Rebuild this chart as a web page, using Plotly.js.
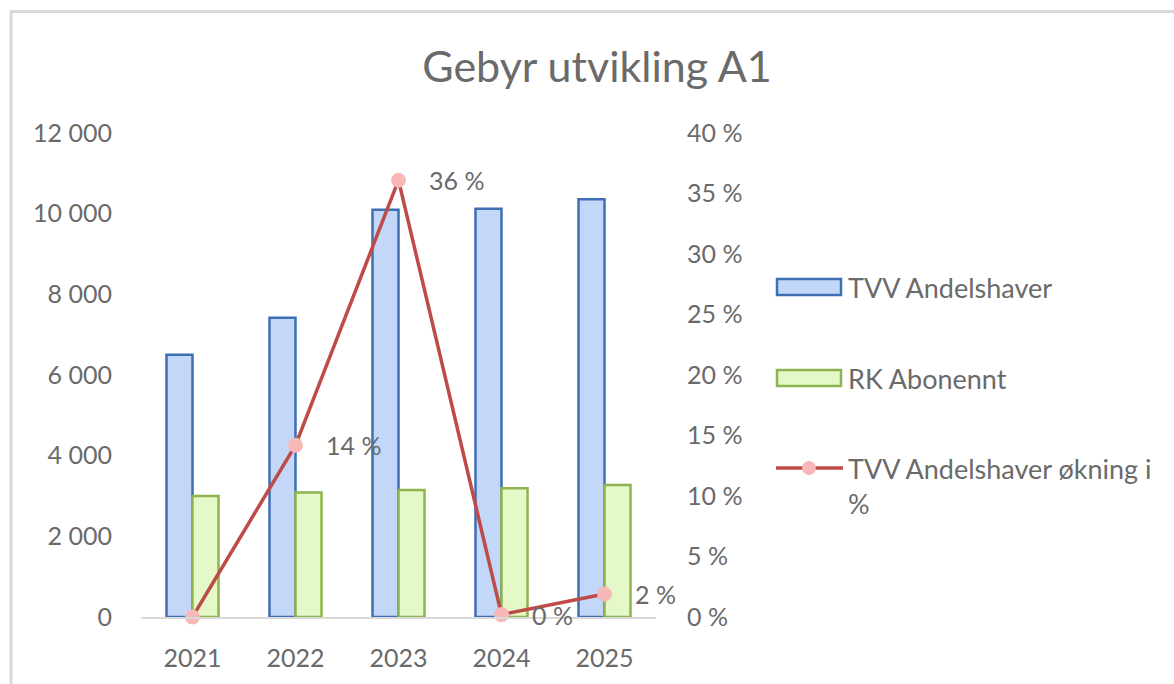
<!DOCTYPE html>
<html>
<head>
<meta charset="utf-8">
<script src="https://cdn.plot.ly/plotly-3.0.1.min.js"></script>
<style>html,body{margin:0;padding:0;background:#fff;}#chart{width:1174px;height:684px;}</style>
</head>
<body>
<div id="chart"></div>
<script>
// ---- data ----
const years = [2021, 2022, 2023, 2024, 2025];
const tvvAndelshaver = [6500, 7420, 10100, 10120, 10360];
const rkAbonennt = [3000, 3085, 3150, 3190, 3275];
const tvvOkningPct = [0, 14.2, 36.1, 0.2, 1.9];
const pctLabels = ['', '14 %', '36 %', '0 %', '2 %'];
const leftTicks = [0, 2000, 4000, 6000, 8000, 10000, 12000];
const rightTicks = [0, 5, 10, 15, 20, 25, 30, 35, 40];
const seriesNames = ['TVV Andelshaver', 'RK Abonennt', 'TVV Andelshaver økning i<br>%'];
const chartTitle = 'Gebyr utvikling A1';

// ---- layout helpers (pixel -> paper) ----
const W = 1174, H = 684, PL = 141, PR = 656, PT = 133, PB = 617;
const px = x => (x - PL) / (PR - PL);
const py = y => (PB - y) / (PB - PT);
const fmtThousands = v => String(v).replace(/\B(?=(\d{3})+(?!\d))/g, ' ');

const FONT = 'Lato, "Open Sans", sans-serif';
const TXT = '#6a6a6a';
const blueFill = '#c3d7f9', blueLine = '#3f6fb3';
const greenFill = '#e5f8c7', greenLine = '#8db44f';
const redLine = '#be4b48', pinkMarker = '#f8b8b8';

const traces = [
  {type: 'bar', x: years, y: tvvAndelshaver, name: seriesNames[0],
   marker: {color: blueFill, line: {color: blueLine, width: 2.5}}, yaxis: 'y', showlegend: false},
  {type: 'bar', x: years, y: rkAbonennt, name: seriesNames[1],
   marker: {color: greenFill, line: {color: greenLine, width: 2.5}}, yaxis: 'y', showlegend: false},
  {type: 'scatter', mode: 'lines+markers', x: years, y: tvvOkningPct, name: seriesNames[2],
   line: {color: redLine, width: 3.5}, marker: {color: pinkMarker, size: 15},
   xaxis: 'x', yaxis: 'y2', showlegend: false, cliponaxis: false}
];

const annotations = [];
years.forEach((yr, i) => {
  if (pctLabels[i] === '') return;
  annotations.push({
    x: yr, y: tvvOkningPct[i], xref: 'x', yref: 'y2', text: pctLabels[i],
    showarrow: false, xanchor: 'left', yanchor: 'middle', xshift: 28,
    font: {family: FONT, size: 25, color: TXT}
  });
});

// custom legend text
annotations.push(
  {xref: 'paper', yref: 'paper', x: px(846), y: py(287), text: seriesNames[0], showarrow: false, xanchor: 'left', yanchor: 'middle', font: {family: FONT, size: 27, color: TXT}},
  {xref: 'paper', yref: 'paper', x: px(846), y: py(378), text: seriesNames[1], showarrow: false, xanchor: 'left', yanchor: 'middle', font: {family: FONT, size: 27, color: TXT}},
  {xref: 'paper', yref: 'paper', x: px(846), y: py(450), text: seriesNames[2], showarrow: false, xanchor: 'left', yanchor: 'top', align: 'left', font: {family: FONT, size: 27, color: TXT}}
);

const shapes = [
  // chart border (top + left)
  {type: 'line', xref: 'paper', yref: 'paper', x0: px(10), x1: px(1180), y0: py(11.5), y1: py(11.5), line: {color: '#d9d9d9', width: 3}},
  {type: 'line', xref: 'paper', yref: 'paper', x0: px(11), x1: px(11), y0: py(10), y1: py(690), line: {color: '#d9d9d9', width: 3}},
  // legend swatches
  {type: 'rect', xref: 'paper', yref: 'paper', x0: px(777), x1: px(841), y0: py(295), y1: py(279), fillcolor: blueFill, line: {color: blueLine, width: 2.5}},
  {type: 'rect', xref: 'paper', yref: 'paper', x0: px(777), x1: px(841), y0: py(386), y1: py(370), fillcolor: greenFill, line: {color: greenLine, width: 2.5}},
  {type: 'line', xref: 'paper', yref: 'paper', x0: px(776), x1: px(843), y0: py(468), y1: py(468), line: {color: redLine, width: 3.5}},
  {type: 'circle', xref: 'paper', yref: 'paper', x0: px(802), x1: px(816), y0: py(475), y1: py(461), fillcolor: pinkMarker, line: {width: 0}}
];

const layout = {
  width: W, height: H,
  margin: {l: PL, r: W - PR, t: PT, b: H - PB, pad: 0},
  paper_bgcolor: '#ffffff', plot_bgcolor: 'rgba(0,0,0,0)',
  font: {family: FONT, size: 25, color: TXT},
  title: {text: chartTitle, x: 597 / W, xref: 'container', xanchor: 'center',
          y: 1 - 67 / H, yref: 'container', yanchor: 'middle',
          font: {family: FONT, size: 43, color: TXT}},
  barmode: 'group', bargap: 0.495, bargroupgap: 0,
  showlegend: false,
  xaxis: {type: 'linear', range: [years[0] - 0.5, years[years.length - 1] + 0.5],
          tickmode: 'array', tickvals: years, ticktext: years.map(String),
          showline: true, linecolor: '#d9d9d9', linewidth: 2,
          showgrid: false, zeroline: false, ticks: '', ticklabelstandoff: 18,
          tickfont: {family: FONT, size: 25, color: TXT}},
  yaxis: {range: [0, 12000], tickmode: 'array', tickvals: leftTicks, ticktext: leftTicks.map(fmtThousands),
          showgrid: false, zeroline: false, showline: false, ticks: '', ticklabelstandoff: 28,
          tickfont: {family: FONT, size: 25, color: TXT}},
  yaxis2: {range: [0, 40], tickmode: 'array', tickvals: rightTicks, ticktext: rightTicks.map(v => v + ' %'),
           overlaying: 'y', side: 'right', anchor: 'x',
           showgrid: false, zeroline: false, showline: false, ticks: '', ticklabelstandoff: 30,
           tickfont: {family: FONT, size: 25, color: TXT}},
  annotations: annotations,
  shapes: shapes
};

Plotly.newPlot('chart', traces, layout, {displayModeBar: false, staticPlot: true});
</script>
</body>
</html>
